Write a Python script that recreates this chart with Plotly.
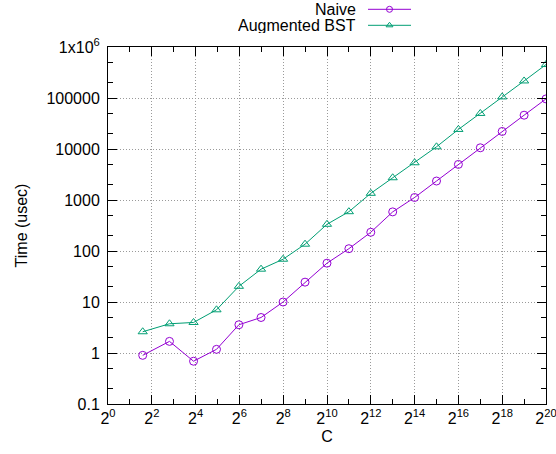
import plotly.graph_objects as go

# Problem sizes C = 2^k - 1 for k = 2..20
exponents = list(range(2, 21))
sizes = [2 ** k - 1 for k in exponents]

naive_usec = [0.90, 1.69, 0.69, 1.18, 3.58, 4.97, 10.0, 24.5, 57.7, 111, 233,
              585, 1120, 2355, 4990, 10560, 22100, 46000, 96000]
bst_usec = [2.61, 3.74, 3.97, 7.03, 20.3, 44, 69, 136, 334, 590, 1352,
            2730, 5370, 11040, 24200, 49800, 105000, 216000, 453000]

x_tick_exps = list(range(0, 21, 2))
x_minor_exps = list(range(1, 21, 2))
y_tick_vals = [0.1, 1, 10, 100, 1000, 10000, 100000, 1000000]
y_tick_text = ["0.1", "1", "10", "100", "1000", "10000", "100000", "1x10<sup>6</sup>"]
y_minor_vals = [m * 10 ** e for e in range(-1, 6) for m in (2, 5)]

series_names = ["Naive", "Augmented BST"]
series_colors = ["#9400d3", "#009e73"]
series_symbols = ["circle-open", "triangle-up-open"]
series_values = [naive_usec, bst_usec]

W, H = 556, 454
FONT = "Liberation Sans, Arial, sans-serif"

fig = go.Figure()
for name, col, sym, vals in zip(series_names, series_colors, series_symbols, series_values):
    fig.add_trace(go.Scatter(
        x=sizes, y=vals, mode="lines+markers", name=name, showlegend=False,
        line=dict(color=col, width=1),
        marker=dict(symbol=sym, size=8, color=col, line=dict(width=1, color=col)),
    ))

# key samples drawn on a small auxiliary axis pair
for row, (name, col, sym) in enumerate(zip(series_names, series_colors, series_symbols), start=1):
    fig.add_trace(go.Scatter(
        x=[0, 1], y=[row, row], mode="lines", xaxis="x2", yaxis="y2",
        line=dict(color=col, width=1), showlegend=False, hoverinfo="skip"))
    fig.add_trace(go.Scatter(
        x=[0.5], y=[row], mode="markers", xaxis="x2", yaxis="y2",
        marker=dict(symbol=sym, size=6, color=col, line=dict(width=1, color=col)),
        showlegend=False, hoverinfo="skip"))
    fig.add_annotation(x=0, y=row, xref="x2", yref="y2", text=name, showarrow=False,
                       xanchor="right", yanchor="middle", xshift=-10, height=15,
                       font=dict(family=FONT, size=16, color="black"))

axis_common = dict(
    showline=True, linecolor="black", linewidth=1, mirror="allticks",
    ticks="inside", ticklen=9, tickcolor="black", tickwidth=1,
    showgrid=True, gridcolor="#9a9a9a", griddash="1px,2px", gridwidth=1,
    zeroline=False, tickfont=dict(family=FONT, size=16, color="black"),
)

fig.update_layout(
    width=W, height=H,
    margin=dict(l=0, r=0, t=0, b=0),
    paper_bgcolor="white", plot_bgcolor="white",
    font=dict(family=FONT, size=16, color="black"),
    xaxis=dict(
        type="log", domain=[108 / W, 546 / W], range=[0, 20 * 0.30103],
        tickvals=[2 ** e for e in x_tick_exps],
        ticktext=[f"2<sup>{e}</sup>" for e in x_tick_exps],
        ticklabeloverflow="allow",
        minor=dict(tickvals=[2 ** e for e in x_minor_exps], ticks="inside",
                   ticklen=5, tickcolor="black", showgrid=False),
        title=dict(text="C", standoff=4, font=dict(family=FONT, size=16)),
        automargin=False,
        **axis_common,
    ),
    yaxis=dict(
        type="log", domain=[(H - 404) / H, (H - 47) / H], range=[-1, 6],
        tickvals=y_tick_vals, ticktext=y_tick_text,
        minor=dict(tickvals=y_minor_vals, ticks="inside",
                   ticklen=5, tickcolor="black", showgrid=False),
        title=dict(text="Time (usec)", standoff=14, font=dict(family=FONT, size=16)),
        ticklabelstandoff=4,
        automargin=False,
        **axis_common,
    ),
    xaxis2=dict(domain=[368 / W, 411 / W], range=[0, 1], visible=False,
                anchor="y2", fixedrange=True),
    yaxis2=dict(domain=[(H - 32) / H, (H - 3) / H], range=[2.419, 0.606],
                visible=False, anchor="x2", fixedrange=True),
)

fig.write_html("out.html")
